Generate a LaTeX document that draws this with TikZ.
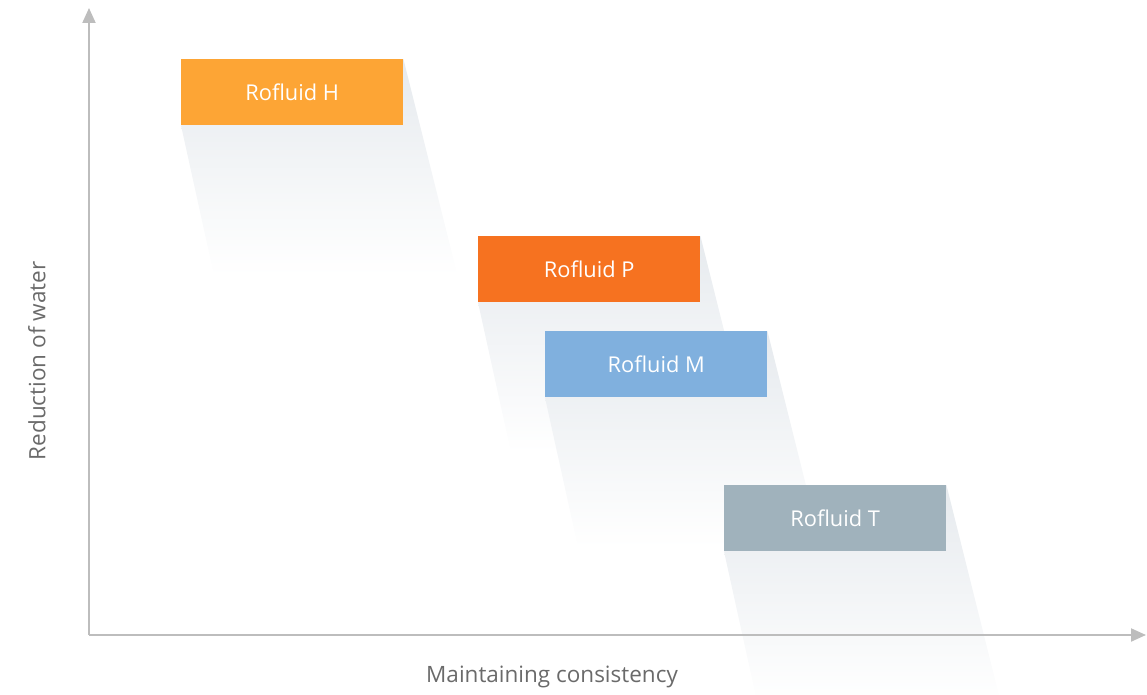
\documentclass[tikz,border=0pt]{standalone}
\usepackage{fontspec}
\setmainfont{Open Sans}
\usetikzlibrary{calc,arrows.meta}
\definecolor{cH}{HTML}{FDA535}
\definecolor{cP}{HTML}{F67220}
\definecolor{cM}{HTML}{80B0DE}
\definecolor{cT}{HTML}{A0B2BC}
\definecolor{axisgray}{HTML}{BDBDBD}
\definecolor{labelgray}{HTML}{6A6A6A}
\definecolor{shadowtop}{HTML}{E6EAEE}
\tikzset{
  prodbox/.style={anchor=north west, minimum width=222pt, minimum height=66pt, inner sep=0pt, text=white, font=\fontsize{21.8}{24}\selectfont},
  axisline/.style={draw=axisgray, line width=2pt, -{Triangle[length=15pt,width=13pt]}},
  axislabel/.style={text=labelgray, font=\fontsize{22.5}{24}\selectfont},
  shadowfill/.style={top color=shadowtop, bottom color=white}
}
\begin{document}
\begin{tikzpicture}[x=1pt,y=-1pt]
\useasboundingbox (0,0) rectangle (1147,695);
% boxes (positions) defined first, invisibly, for shadows
\path (181,59) node[prodbox] (h) {};
\path (478,236) node[prodbox] (p) {};
\path (545,331) node[prodbox] (m) {};
\path (724,485) node[prodbox] (t) {};
% shadows
\foreach \b in {h,p,m,t}{
  \shade[shadowfill] (\b.south west) -- (\b.north east) -- ($(\b.north east)+(54,216)$) -- ($(\b.south west)+(33,150)$) -- cycle;
}
% axes
\coordinate (o) at (89,635);
\coordinate (ytip) at (89,8);
\coordinate (xtip) at (1146,635);
\draw[axisline] (o) -- (ytip);
\draw[axisline] (o) -- (xtip);
% boxes
\node[prodbox, fill=cH] at (h.north west) {Rofluid H};
\node[prodbox, fill=cP] at (p.north west) {Rofluid P};
\node[prodbox, fill=cM] at (m.north west) {Rofluid M};
\node[prodbox, fill=cT] at (t.north west) {Rofluid T};
% axis labels
\node[axislabel, rotate=90] (ylab) at (37,361) {Reduction of water};
\node[axislabel] (xlab) at (552,677) {Maintaining consistency};
\end{tikzpicture}
\end{document}
